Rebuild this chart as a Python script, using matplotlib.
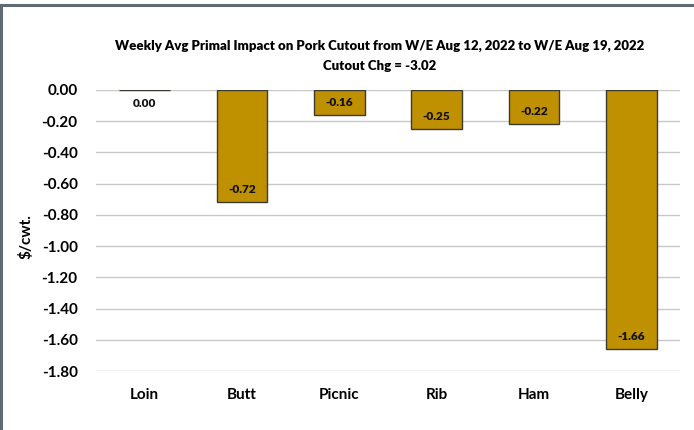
import matplotlib
matplotlib.use("Agg")
import matplotlib.pyplot as plt
from matplotlib.lines import Line2D

plt.rcParams['font.family'] = ['Lato', 'DejaVu Sans']

primals = ["Loin", "Butt", "Picnic", "Rib", "Ham", "Belly"]
impact = [0.00, -0.72, -0.16, -0.25, -0.22, -1.66]
y_ticks = [0.0, -0.2, -0.4, -0.6, -0.8, -1.0, -1.2, -1.4, -1.6, -1.8]
title_line1 = "Weekly Avg Primal Impact on Pork Cutout from W/E Aug 12, 2022 to W/E Aug 19, 2022"
title_line2 = "Cutout Chg = -3.02"

fig = plt.figure(figsize=(6.94, 4.30), dpi=100)
ax = fig.add_axes([0.138, 0.137, 0.842, 0.654])

x = list(range(len(primals)))
bars = ax.bar(x, impact, width=0.52, color="#BF9000", edgecolor="#3b3a30",
              linewidth=1.0, zorder=3)

for xi, v in zip(x, impact):
    dy = 9 if v < 0 else -10
    ax.annotate(f"{v:.2f}", (xi, v), xytext=(0, dy), textcoords="offset points",
                ha="center", va="center", fontsize=8.5, fontweight="heavy",
                color="#111111", zorder=4)

ax.set_xlim(-0.5, len(primals) - 0.5)
ax.set_ylim(-1.8, 0.0)
ax.set_yticks(y_ticks)
ax.set_yticklabels([f"{t:.2f}" for t in y_ticks], fontsize=11, fontweight="bold")
ax.set_xticks(x)
ax.set_xticklabels(primals, fontsize=11, fontweight="bold")
ax.tick_params(axis="both", length=0)
ax.tick_params(axis="y", pad=13)
ax.tick_params(axis="x", pad=12)
for s in ax.spines.values():
    s.set_visible(False)
ax.yaxis.grid(True, color="#c8c8c8", linewidth=1.0, zorder=0)
ax.set_axisbelow(True)

fig.text(0.037, 0.45, "$/cwt.", rotation=90, ha="center", va="center",
         fontsize=11, fontweight="bold")

fig.text(0.547, 0.893, title_line1, ha="center", va="center",
         fontsize=9.5, fontweight="heavy")
fig.text(0.547, 0.847, title_line2, ha="center", va="center",
         fontsize=9.5, fontweight="heavy")

# frame lines along the top and left edges
fig.add_artist(Line2D([0, 1], [0.988, 0.988], transform=fig.transFigure,
                      color="#5f6a72", linewidth=2.2))
fig.add_artist(Line2D([0.002, 0.002], [0, 0.988], transform=fig.transFigure,
                      color="#5f6a72", linewidth=2.2))

fig.savefig("out.png", dpi=100, facecolor="white")
